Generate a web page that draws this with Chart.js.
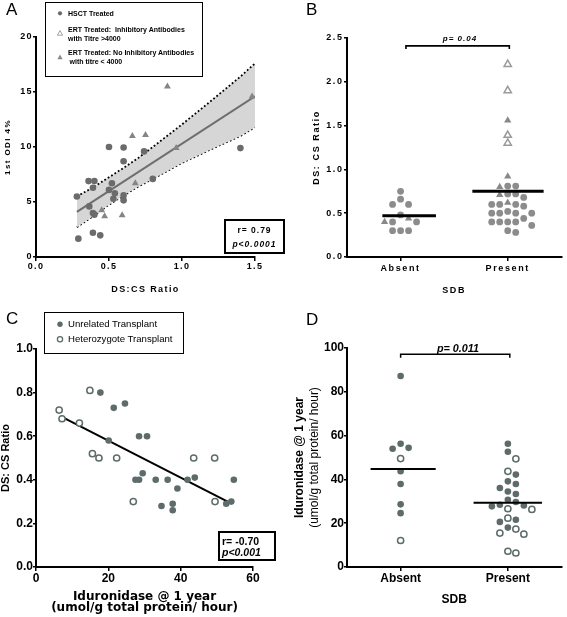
<!DOCTYPE html>
<html>
<head>
<meta charset="utf-8">
<title>Figure</title>
<script src="https://cdn.jsdelivr.net/npm/chart.js@4.4.1/dist/chart.umd.min.js"></script>
<style>
html,body{margin:0;padding:0;background:#fff;}
#wrap{position:relative;width:567px;height:617px;overflow:hidden;background:#fff;font-family:"Liberation Sans",Arial,Helvetica,sans-serif;color:#000;}
#wrap canvas{position:absolute;}
.t{position:absolute;white-space:nowrap;line-height:1;transform:translateY(-50%);}
.box{position:absolute;border:1.5px solid #000;box-sizing:border-box;background:transparent;}
.letter{position:absolute;font-size:17px;line-height:1;font-weight:normal;}
svg.ov{position:absolute;left:0;top:0;overflow:visible;}
</style>
</head>
<body>
<div id="wrap">
  <canvas id="chartA" width="290" height="305" style="left:0px;top:0px;"></canvas>
  <canvas id="chartB" width="277" height="305" style="left:290px;top:0px;"></canvas>
  <canvas id="chartC" width="290" height="312" style="left:0px;top:305px;"></canvas>
  <canvas id="chartD" width="277" height="312" style="left:290px;top:305px;"></canvas>

  <div class="letter" style="left:6px;top:1px;">A</div>
  <div class="letter" style="left:306px;top:1px;">B</div>
  <div class="letter" style="left:6px;top:310px;">C</div>
  <div class="letter" style="left:306px;top:311px;">D</div>

  <!-- Panel A legend -->
  <div class="box" style="left:45px;top:2px;width:158px;height:75px;background:#fff;"></div>
  <!-- Panel C legend -->
  <div class="box" style="left:44px;top:312px;width:140px;height:42px;background:#fff;"></div>
  <!-- stats boxes -->
  <div class="box" style="left:224px;top:219px;width:61px;height:35px;border-width:2px;background:#fff;"></div>
  <div class="box" style="left:218px;top:531px;width:58px;height:30px;border-width:2px;background:#fff;"></div>

  <svg class="ov" width="567" height="617">
    <circle cx="60" cy="13.3" r="2.1" fill="#6b6b6b"/>
    <polygon points="60,30.6 62.6,35.2 57.4,35.2" fill="#fff" stroke="#8a8a8a" stroke-width="0.8"/>
    <polygon points="60,54.6 62.6,59.2 57.4,59.2" fill="#8a8a8a"/>
    <circle cx="60" cy="324.3" r="2.7" fill="#5d6b6b"/>
    <circle cx="60" cy="339.3" r="2.6" fill="#fff" stroke="#5d6b6b" stroke-width="1.3"/>
  </svg>

  <div class="t" style="left:68px;top:13.3px;font-size:7px;font-weight:bold;">HSCT Treated</div>
  <div class="t" style="left:68px;top:29.3px;font-size:7px;font-weight:bold;">ERT Treated:&nbsp; Inhibitory Antibodies</div>
  <div class="t" style="left:68px;top:37.8px;font-size:7px;font-weight:bold;">with Titre &gt;4000</div>
  <div class="t" style="left:68px;top:51.7px;font-size:7px;font-weight:bold;">ERT Treated: No Inhibitory Antibodies</div>
  <div class="t" style="left:69.5px;top:60.7px;font-size:7px;font-weight:bold;">with titre &lt; 4000</div>

  <div class="t" style="left:224px;width:61px;text-align:center;top:230px;font-size:8.5px;font-weight:bold;letter-spacing:1px;">r= 0.79</div>
  <div class="t" style="left:224px;width:61px;text-align:center;top:244px;font-size:8.5px;font-weight:bold;font-style:italic;letter-spacing:1px;">p&lt;0.0001</div>

  <div class="t" style="left:420px;width:80px;text-align:center;top:38.5px;font-size:8px;font-weight:bold;font-style:italic;letter-spacing:1px;">p= 0.04</div>

  <div class="t" style="left:68px;top:324.3px;font-size:9.6px;">Unrelated Transplant</div>
  <div class="t" style="left:68px;top:339.3px;font-size:9.6px;">Heterozygote Transplant</div>

  <div class="t" style="left:222px;top:540.5px;font-size:10.5px;font-weight:bold;">r= -0.70</div>
  <div class="t" style="left:222px;top:551.5px;font-size:10.5px;font-weight:bold;font-style:italic;">p&lt;0.001</div>

  <div class="t" style="left:408px;width:100px;text-align:center;top:347.5px;font-size:10.8px;font-weight:bold;font-style:italic;">p= 0.011</div>
</div>

<script>
// ---------------- Panel A data ----------------
const hsctX = [0.50, 0.60, 1.40, 0.74, 0.60, 0.28, 0.36, 0.40, 0.39, 0.52, 0.50, 0.54, 0.60, 0.60, 0.53, 0.365, 0.39, 0.40, 0.80, 0.39, 0.44, 0.29];
const hsctY = [10.0, 9.95, 9.9, 9.6, 8.7, 5.5, 6.9, 6.9, 6.3, 6.7, 6.1, 5.8, 5.6, 5.15, 5.3, 4.6, 4.0, 3.85, 7.1, 2.2, 1.97, 1.67];
const ertLowX = [0.90, 1.48, 0.66, 0.75, 0.96, 0.68, 0.45, 0.47, 0.59];
const ertLowY = [15.5, 14.6, 11.0, 11.1, 9.9, 6.7, 4.25, 3.7, 3.8];
const ertHighX = [];
const ertHighY = [];
const fitAX = [0.28, 1.5];
const fitAY = [4.1, 14.6];
const bandX = [0.28, 0.4, 0.5, 0.6, 0.7, 0.8, 1.0, 1.2, 1.4, 1.5];
const bandUpper = [5.5, 6.4, 7.25, 8.1, 9.0, 10.0, 12.05, 14.2, 16.4, 17.6];
const bandLower = [2.7, 3.8, 4.75, 5.6, 6.4, 7.1, 8.55, 9.8, 11.0, 11.8];
const ticksAX = [0, 0.5, 1.0, 1.5];
const ticksAY = [0, 5, 10, 15, 20];

// ---------------- Panel B data ----------------
const groups = ['Absent', 'Present'];
const bAbsentCircles = [0.75, 0.66, 0.60, 0.60, 0.48, 0.40, 0.40, 0.30, 0.30, 0.30];
const bAbsentTriFilled = [0.44, 0.40];
const bPresentCircles = [0.81, 0.81, 0.72, 0.72, 0.68, 0.60, 0.60, 0.60, 0.58, 0.52, 0.50, 0.50, 0.50, 0.50, 0.44, 0.40, 0.40, 0.40, 0.40, 0.36, 0.30, 0.28];
const bPresentTriFilled = [1.56, 0.92, 0.80, 0.71, 0.62];
const bPresentTriOpen = [2.20, 1.90, 1.39, 1.30];
const bMeans = [0.47, 0.75];
const bBracketY = 2.41;
const ticksBY = [0, 0.5, 1.0, 1.5, 2.0, 2.5];

// ---------------- Panel C data ----------------
const cUnrelatedX = [17.8, 21.5, 24.6, 20.1, 28.5, 30.7, 27.5, 28.5, 29.5, 33.1, 36.4, 43.9, 41.9, 39.1, 54.7, 34.7, 37.8, 37.8, 52.6, 54.0];
const cUnrelatedY = [0.80, 0.73, 0.75, 0.58, 0.60, 0.60, 0.40, 0.40, 0.43, 0.40, 0.40, 0.41, 0.40, 0.36, 0.40, 0.28, 0.29, 0.26, 0.29, 0.30];
const cHeteroX = [14.9, 6.4, 7.2, 12.0, 15.6, 17.4, 22.3, 43.6, 49.4, 26.9, 49.5];
const cHeteroY = [0.81, 0.72, 0.68, 0.66, 0.52, 0.50, 0.50, 0.50, 0.50, 0.30, 0.30];
const fitCX = [7, 53];
const fitCY = [0.69, 0.30];
const ticksCX = [0, 20, 40, 60];
const ticksCY = [0, 0.2, 0.4, 0.6, 0.8, 1.0];

// ---------------- Panel D data ----------------
const dAbsentUnrelated = [87.2, 56.3, 54.4, 54.0, 43.7, 37.9, 28.6, 24.6];
const dAbsentHetero = [49.5, 12.1];
const dPresentUnrelated = [56.3, 52.6, 42.2, 39.1, 37.9, 36.1, 34.5, 33.3, 30.7, 29.7, 28.4, 28.1, 27.7, 21.6, 20.6, 18.0];
const dPresentHetero = [49.4, 43.7, 26.6, 26.3, 22.3, 17.3, 15.5, 15.0, 7.2, 6.4];
const dMeans = [44.7, 29.3];
const dBracketY = 97.2;
const ticksDY = [0, 20, 40, 60, 80, 100];

// ---------------- helpers ----------------
const FONT = '"Liberation Sans", Arial, Helvetica, sans-serif';
Chart.defaults.font.family = FONT;
Chart.defaults.color = '#000';
Chart.defaults.animation = false;
Chart.defaults.plugins.legend.display = false;
Chart.defaults.plugins.tooltip.enabled = false;

const pts = (xs, ys) => xs.map((x, i) => ({x: x, y: ys[i]}));
const cat = (vals, c) => vals.map(v => ({x: c, y: v}));
const spacing = px => ({ id: 'letterSpacing', beforeDraw(ch) { ch.ctx.letterSpacing = px; } });
const grid = len => ({ display: true, drawOnChartArea: false, drawTicks: true, tickLength: len, color: '#000', lineWidth: 1.5 });
const border = { display: true, color: '#000', width: 2 };
const fixTicks = arr => (s => { s.ticks = arr.map(v => ({value: v})); });
const seg = (x0, x1, y) => [{x: x0, y: y}, {x: x1, y: y}];

function swarm(chart, step, minDist) {
  const xs = chart.scales.x, ys = chart.scales.y;
  const ppx = xs.getPixelForValue(1) - xs.getPixelForValue(0);
  const items = [];
  chart.data.datasets.forEach(ds => {
    if (!ds.swarm) return;
    ds.data.forEach(p => items.push({p: p, c: p.x, py: ys.getPixelForValue(p.y)}));
  });
  [0, 1].forEach(c => {
    const grp = items.filter(it => it.c === c).sort((a, b) => a.py - b.py);
    const placed = [];
    grp.forEach(it => {
      for (let k = 0; k < 60; k++) {
        const m = k === 0 ? 0 : (k % 2 === 1 ? Math.ceil(k / 2) : -Math.ceil(k / 2));
        const ox = m * step;
        if (placed.every(q => (q.ox - ox) ** 2 + (q.py - it.py) ** 2 >= minDist * minDist)) {
          it.ox = ox; placed.push(it); break;
        }
      }
      it.p.x = c + it.ox / ppx;
    });
  });
  chart.update('none');
}

// ---------------- Chart A ----------------
new Chart(document.getElementById('chartA'), {
  type: 'scatter',
  data: { datasets: [
    {label: 'HSCT Treated', data: pts(hsctX, hsctY), pointStyle: 'circle', pointRadius: 3.3, backgroundColor: '#6b6b6b', borderColor: '#6b6b6b', borderWidth: 0, order: 0},
    {label: 'ERT Treated: Inhibitory Antibodies with Titre >4000', data: pts(ertHighX, ertHighY), pointStyle: 'triangle', pointRadius: 4, backgroundColor: '#fff', borderColor: '#8a8a8a', borderWidth: 1, order: 0},
    {label: 'ERT Treated: No Inhibitory Antibodies with titre < 4000', data: pts(ertLowX, ertLowY), pointStyle: 'triangle', pointRadius: 4, backgroundColor: '#858585', borderColor: '#858585', borderWidth: 0, order: 0},
    {label: 'Linear fit', data: pts(fitAX, fitAY), showLine: true, borderColor: '#6e6e6e', borderWidth: 2, pointRadius: 0, order: 1},
    {label: '95% CI upper', data: pts(bandX, bandUpper), showLine: true, borderColor: '#000', borderWidth: 1.8, borderDash: [1.8, 2.2], pointRadius: 0, fill: '+1', backgroundColor: '#d6d6d6', order: 2},
    {label: '95% CI lower', data: pts(bandX, bandLower), showLine: true, borderColor: '#000', borderWidth: 1.8, borderDash: [1.8, 2.2], pointRadius: 0, fill: false, order: 2}
  ]},
  options: {
    responsive: false, devicePixelRatio: 1,
    layout: {padding: {left: 0, top: 37, right: 35, bottom: 0}},
    scales: {
      x: { type: 'linear', min: 0, max: 1.5,
        afterBuildTicks: fixTicks(ticksAX), afterFit: s => { s.height = 48; },
        ticks: {callback: v => Number(v).toFixed(1), font: {size: 9, weight: 'bold'}, padding: 0.5, maxRotation: 0, autoSkip: false},
        grid: grid(4), border: border,
        title: {display: true, text: 'DS:CS Ratio', font: {size: 9, weight: 'bold'}, padding: {top: 0, bottom: 9.6}} },
      y: { type: 'linear', min: 0, max: 20,
        afterBuildTicks: fixTicks(ticksAY), afterFit: s => { s.width = 36; },
        ticks: {callback: v => String(v), font: {size: 9, weight: 'bold'}, padding: 0, autoSkip: false},
        grid: grid(3), border: border,
        title: {display: true, text: '1st ODI 4%', font: {size: 8, weight: 'bold'}, padding: {top: 3.2, bottom: 0}} }
    }
  },
  plugins: [spacing('1.4px')]
});

// ---------------- Chart B ----------------
const chartB = new Chart(document.getElementById('chartB'), {
  type: 'scatter',
  data: { datasets: [
    {label: 'Mean Absent', data: seg(-0.17, 0.33, bMeans[0]), showLine: true, borderColor: '#000', borderWidth: 3, pointRadius: 0, order: 0},
    {label: 'Mean Present', data: seg(0.67, 1.335, bMeans[1]), showLine: true, borderColor: '#000', borderWidth: 3, pointRadius: 0, order: 0},
    {label: 'Comparison', data: [{x: 0.05, y: bBracketY - 0.035}, {x: 0.05, y: bBracketY}, {x: 1.015, y: bBracketY}, {x: 1.015, y: bBracketY - 0.035}], showLine: true, borderColor: '#000', borderWidth: 1.6, pointRadius: 0, order: 0},
    {label: 'HSCT Treated', swarm: true, data: cat(bAbsentCircles, 0).concat(cat(bPresentCircles, 1)), pointStyle: 'circle', pointRadius: 3.4, backgroundColor: '#8c8c8c', borderWidth: 0, order: 1},
    {label: 'ERT Treated: No Inhibitory Antibodies', swarm: true, data: cat(bAbsentTriFilled, 0).concat(cat(bPresentTriFilled, 1)), pointStyle: 'triangle', pointRadius: 4.2, backgroundColor: '#888', borderWidth: 0, order: 1},
    {label: 'ERT Treated: Inhibitory Antibodies', swarm: true, data: cat(bPresentTriOpen, 1), pointStyle: 'triangle', pointRadius: 4.2, backgroundColor: '#fff', borderColor: '#999', borderWidth: 1.5, order: 1}
  ]},
  options: {
    responsive: false, devicePixelRatio: 1,
    layout: {padding: {left: 0, top: 38, right: 0, bottom: 0}},
    scales: {
      x: { type: 'linear', min: -0.5, max: 1.5,
        afterBuildTicks: fixTicks([0, 1]), afterFit: s => { s.height = 48; },
        ticks: {callback: v => groups[Math.round(v)] || '', font: {size: 9, weight: 'bold'}, padding: 2, maxRotation: 0, autoSkip: false},
        grid: grid(4), border: border,
        title: {display: true, text: 'SDB', font: {size: 9, weight: 'bold'}, padding: {top: 0, bottom: 8.6}} },
      y: { type: 'linear', min: 0, max: 2.5,
        afterBuildTicks: fixTicks(ticksBY), afterFit: s => { s.width = 57; },
        ticks: {callback: v => Number(v).toFixed(1), font: {size: 9, weight: 'bold'}, padding: 0.5, autoSkip: false},
        grid: grid(3), border: border,
        title: {display: true, text: 'DS: CS Ratio', font: {size: 9, weight: 'bold'}, padding: {top: 21, bottom: 0}} }
    }
  },
  plugins: [spacing('1.6px')]
});
swarm(chartB, 8, 7.6);

// ---------------- Chart C ----------------
new Chart(document.getElementById('chartC'), {
  type: 'scatter',
  data: { datasets: [
    {label: 'Unrelated Transplant', data: pts(cUnrelatedX, cUnrelatedY), pointStyle: 'circle', pointRadius: 3.3, backgroundColor: '#5d6b6b', borderWidth: 0, order: 0},
    {label: 'Heterozygote Transplant', data: pts(cHeteroX, cHeteroY), pointStyle: 'circle', pointRadius: 3.1, backgroundColor: '#fff', borderColor: '#5d6b6b', borderWidth: 1.5, order: 0},
    {label: 'Linear fit', data: pts(fitCX, fitCY), showLine: true, borderColor: '#000', borderWidth: 2, pointRadius: 0, order: 1}
  ]},
  options: {
    responsive: false, devicePixelRatio: 1,
    layout: {padding: {left: 0, top: 44, right: 37, bottom: 0}},
    scales: {
      x: { type: 'linear', min: 0, max: 60,
        afterBuildTicks: fixTicks(ticksCX), afterFit: s => { s.height = 50; },
        ticks: {callback: v => String(v), font: {size: 12, weight: 'bold'}, padding: 0, maxRotation: 0, autoSkip: false},
        grid: grid(4), border: border,
        title: {display: true, text: ['Iduronidase @ 1 year', '(umol/g total protein/ hour)'], font: {family: '"DejaVu Sans", sans-serif', size: 12, weight: 'bold', lineHeight: 0.88}, padding: {top: 0, bottom: 4.2}} },
      y: { type: 'linear', min: 0, max: 1.0,
        afterBuildTicks: fixTicks(ticksCY), afterFit: s => { s.width = 36; },
        ticks: {callback: v => Number(v).toFixed(1), font: {size: 12, weight: 'bold'}, padding: 0, autoSkip: false},
        grid: grid(3), border: border,
        title: {display: true, text: 'DS: CS Ratio', font: {size: 11, weight: 'bold', lineHeight: 1.0}, padding: {top: 0, bottom: 0}} }
    }
  }
});

// ---------------- Chart D ----------------
const chartD = new Chart(document.getElementById('chartD'), {
  type: 'scatter',
  data: { datasets: [
    {label: 'Mean Absent', data: seg(-0.28, 0.327, dMeans[0]), showLine: true, borderColor: '#000', borderWidth: 2, pointRadius: 0, order: 0},
    {label: 'Mean Present', data: seg(0.68, 1.318, dMeans[1]), showLine: true, borderColor: '#000', borderWidth: 2, pointRadius: 0, order: 0},
    {label: 'Comparison', data: [{x: 0, y: dBracketY - 1.6}, {x: 0, y: dBracketY}, {x: 1.018, y: dBracketY}, {x: 1.018, y: dBracketY - 1.6}], showLine: true, borderColor: '#000', borderWidth: 1.5, pointRadius: 0, order: 0},
    {label: 'Unrelated Transplant', swarm: true, data: cat(dAbsentUnrelated, 0).concat(cat(dPresentUnrelated, 1)), pointStyle: 'circle', pointRadius: 3.3, backgroundColor: '#5d6b6b', borderWidth: 0, order: 1},
    {label: 'Heterozygote Transplant', swarm: true, data: cat(dAbsentHetero, 0).concat(cat(dPresentHetero, 1)), pointStyle: 'circle', pointRadius: 3.1, backgroundColor: '#fff', borderColor: '#5d6b6b', borderWidth: 1.5, order: 1}
  ]},
  options: {
    responsive: false, devicePixelRatio: 1,
    layout: {padding: {left: 0, top: 43, right: 0, bottom: 0}},
    scales: {
      x: { type: 'linear', min: -0.5, max: 1.5,
        afterBuildTicks: fixTicks([0, 1]), afterFit: s => { s.height = 50; },
        ticks: {callback: v => groups[Math.round(v)] || '', font: {size: 12, weight: 'bold'}, padding: 0, maxRotation: 0, autoSkip: false},
        grid: grid(4), border: border,
        title: {display: true, text: 'SDB', font: {size: 12, weight: 'bold'}, padding: {top: 0, bottom: 9.8}} },
      y: { type: 'linear', min: 0, max: 100, weight: 0,
        afterBuildTicks: fixTicks(ticksDY), afterFit: s => { s.width = 40; },
        ticks: {callback: v => String(v), font: {size: 12, weight: 'bold'}, padding: 0, autoSkip: false},
        grid: grid(3), border: border,
        title: {display: true, text: '(umol/g total protein/ hour)', font: {size: 12, weight: 'normal'}, padding: {top: 0.8, bottom: 0}} },
      y2: { type: 'linear', position: 'left', weight: 1, min: 0, max: 1,
        afterFit: s => { s.width = 17; },
        ticks: {display: false}, grid: {display: false}, border: {display: false},
        title: {display: true, text: 'Iduronidase @ 1 year', font: {size: 12, weight: 'bold'}, padding: {top: 2.8, bottom: 0}} }
    }
  }
});
swarm(chartD, 8, 7.6);
</script>
</body>
</html>
